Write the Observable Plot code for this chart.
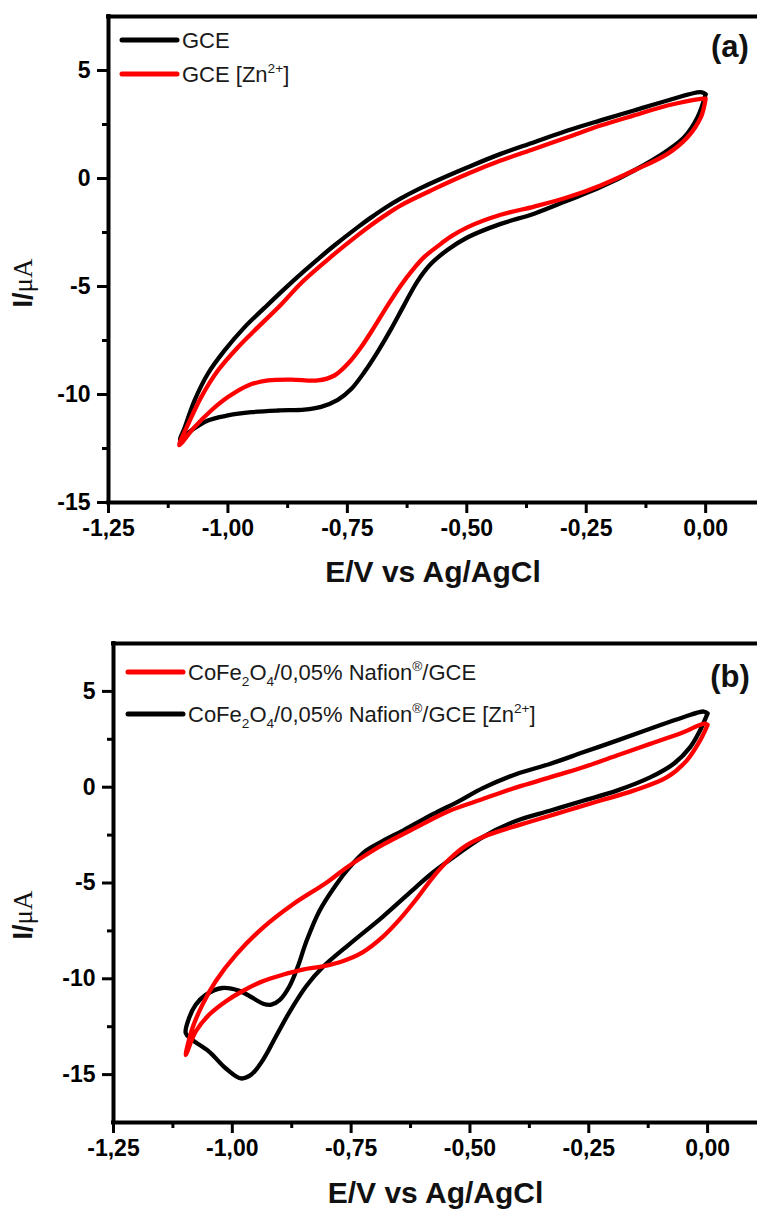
<!DOCTYPE html>
<html>
<head>
<meta charset="utf-8">
<script src="https://cdn.jsdelivr.net/npm/d3@7"></script>
<script src="https://cdn.jsdelivr.net/npm/@observablehq/plot@0.6"></script>
<style>
  html, body { margin: 0; padding: 0; background: #fff; }
  svg { display: block; }
</style>
</head>
<body>
<div id="chart"></div>
<script>
// ---------- axis ticks ----------
const xMajor = [-1.25, -1.0, -0.75, -0.5, -0.25, 0];
const xMajorLabels = ["-1,25", "-1,00", "-0,75", "-0,50", "-0,25", "0,00"];
const xMinor = [-1.125, -0.875, -0.625, -0.375, -0.125];
const yMajor = [-15, -10, -5, 0, 5];
const yMajorLabels = ["-15", "-10", "-5", "0", "5"];
const yMinor = [-12.5, -7.5, -2.5, 2.5];
const xDomainA = [-1.25, 0.1085];
const yDomainA = [-15, 7.5];
const xDomainB = [-1.25, 0.105];
const yDomainB = [-17.5, 7.5];

// ---------- panel (a) series ----------
const gceE = [0.000, -0.017, -0.045, -0.080, -0.150, -0.220, -0.289, -0.359, -0.429, -0.498, -0.540, -0.575, -0.603, -0.631, -0.658, -0.686, -0.714, -0.742, -0.770, -0.805, -0.840, -0.895, -0.951, -1.000, -1.042, -1.077, -1.100,
  -1.090, -1.070, -1.042, -1.007, -0.965, -0.923, -0.881, -0.840, -0.780, -0.728, -0.700, -0.668, -0.638, -0.600, -0.568, -0.498, -0.429, -0.359, -0.289, -0.220, -0.150, -0.080, -0.010, 0.000];
const gceI = [3.90, 2.84, 1.91, 1.30, 0.37, -0.40, -1.02, -1.63, -2.10, -2.72, -3.30, -3.95, -4.75, -5.85, -6.95, -8.00, -8.95, -9.75, -10.25, -10.57, -10.70, -10.74, -10.82, -10.97, -11.20, -11.67, -12.10,
  -11.50, -10.28, -9.04, -7.96, -6.88, -5.98, -5.10, -4.28, -3.15, -2.25, -1.80, -1.32, -0.92, -0.48, -0.15, 0.52, 1.14, 1.68, 2.22, 2.69, 3.15, 3.61, 4.00, 3.90];

const gceZnE = [0.000, -0.010, -0.038, -0.080, -0.150, -0.220, -0.289, -0.359, -0.429, -0.498, -0.533, -0.560, -0.590, -0.612, -0.638, -0.665, -0.693, -0.721, -0.749, -0.777, -0.812, -0.867, -0.916, -0.958, -1.000, -1.035, -1.070, -1.102,
  -1.083, -1.056, -1.021, -0.979, -0.937, -0.888, -0.845, -0.784, -0.728, -0.700, -0.672, -0.638, -0.568, -0.498, -0.429, -0.359, -0.289, -0.220, -0.150, -0.080, -0.010, 0.000];
const gceZnI = [3.70, 2.84, 1.91, 1.14, 0.37, -0.32, -0.87, -1.30, -1.68, -2.25, -2.68, -3.12, -3.65, -4.20, -4.95, -5.85, -6.85, -7.80, -8.58, -9.12, -9.35, -9.31, -9.35, -9.58, -10.12, -10.74, -11.51, -12.35,
  -11.36, -10.12, -8.89, -7.81, -6.88, -5.82, -4.80, -3.62, -2.62, -2.15, -1.72, -1.24, -0.48, 0.22, 0.83, 1.37, 1.91, 2.45, 2.92, 3.38, 3.69, 3.70];

// ---------- panel (b) series ----------
const cfnE = [0.000, -0.016, -0.044, -0.086, -0.156, -0.227, -0.297, -0.367, -0.437, -0.473, -0.508, -0.543, -0.578, -0.613, -0.648, -0.683, -0.726, -0.768, -0.810, -0.852, -0.894, -0.936, -0.979, -1.014, -1.049, -1.077, -1.098,
  -1.084, -1.063, -1.035, -0.992, -0.936, -0.873, -0.803, -0.760, -0.720, -0.683, -0.613, -0.543, -0.473, -0.402, -0.332, -0.262, -0.191, -0.121, -0.051, -0.008, 0.000];
const cfnI = [3.25, 2.43, 1.39, 0.51, -0.18, -0.71, -1.23, -1.75, -2.28, -2.60, -3.05, -3.75, -4.70, -5.85, -6.90, -7.80, -8.62, -9.08, -9.35, -9.52, -9.79, -10.13, -10.65, -11.18, -11.88, -12.75, -13.98,
  -12.58, -11.36, -10.13, -8.74, -7.34, -6.12, -5.00, -4.20, -3.55, -3.00, -2.10, -1.23, -0.62, -0.01, 0.51, 1.04, 1.65, 2.26, 2.87, 3.31, 3.25];

const cfnZnE = [0.000, -0.016, -0.037, -0.072, -0.121, -0.191, -0.262, -0.332, -0.402, -0.473, -0.529, -0.578, -0.613, -0.683, -0.754, -0.810, -0.845, -0.880, -0.908, -0.936, -0.960, -0.982, -1.014, -1.049, -1.084, -1.098,
  -1.091, -1.077, -1.056, -1.021, -0.985, -0.957, -0.935, -0.918, -0.900, -0.880, -0.862, -0.845, -0.817, -0.782, -0.754, -0.719, -0.683, -0.640, -0.578, -0.522, -0.473, -0.402, -0.332, -0.262, -0.191, -0.121, -0.051, -0.008, 0.000];
const cfnZnI = [3.85, 2.96, 2.08, 1.21, 0.51, -0.18, -0.71, -1.23, -1.75, -2.60, -3.55, -4.45, -5.20, -6.75, -8.20, -9.40, -10.40, -11.75, -13.00, -14.25, -15.00, -15.20, -14.67, -13.80, -13.19, -12.84,
  -12.05, -11.36, -10.84, -10.48, -10.63, -11.00, -11.30, -11.35, -11.10, -10.40, -9.35, -8.10, -6.47, -5.10, -4.20, -3.32, -2.80, -2.25, -1.41, -0.71, -0.05, 0.69, 1.21, 1.82, 2.43, 3.05, 3.65, 3.95, 3.85];

// ---------- legends / labels ----------
const legendA = [
  {color: "#000000", parts: [["GCE", "n"]]},
  {color: "#ff0000", parts: [["GCE [Zn", "n"], ["2+", "sup"], ["]", "n"]]}
];
const legendB = [
  {color: "#ff0000", parts: [["CoFe", "n"], ["2", "sub"], ["O", "n"], ["4", "sub"], ["/0,05% Nafion", "n"], ["®", "sup"], ["/GCE", "n"]]},
  {color: "#000000", parts: [["CoFe", "n"], ["2", "sub"], ["O", "n"], ["4", "sub"], ["/0,05% Nafion", "n"], ["®", "sup"], ["/GCE [Zn", "n"], ["2+", "sup"], ["]", "n"]]}
];
const xTitle = "E/V vs Ag/AgCl";

const SANS = "'Liberation Sans', Arial, Helvetica, sans-serif";
const SERIF = "'Liberation Serif', 'Times New Roman', serif";

function toRows(E, I) { return E.map((e, i) => ({E: e, I: I[i]})); }

function richText(g, x, y, parts, size) {
  const t = g.append("text").attr("x", x).attr("y", y).attr("text-anchor", "start")
    .attr("font-family", SANS).attr("font-size", size).attr("font-weight", "normal").attr("fill", "#1a1a1a");
  let shift = 0;
  for (const [s, kind] of parts) {
    let target = 0, fs = size;
    if (kind === "sub") { target = 6; fs = size * 0.62; }
    if (kind === "sup") { target = -9; fs = size * 0.62; }
    t.append("tspan").attr("dy", target - shift).attr("font-size", fs).text(s);
    shift = target;
  }
}

function panel(opts) {
  const {height, marginTop, marginBottom, marginLeft, xDomain, yDomain, series, legend, legendY, legendX, tag, tagY, ylabY, titleDy} = opts;
  const marks = [
    Plot.axisX(xMinor, {tickSize: 6, strokeWidth: 3, tickFormat: () => "", label: null}),
    Plot.axisX(xMajor, {tickSize: 11, tickPadding: 6, strokeWidth: 3, label: null,
      tickFormat: d => xMajorLabels[xMajor.indexOf(d)]}),
    Plot.axisY(yMinor, {tickSize: 6, strokeWidth: 3, tickFormat: () => "", label: null}),
    Plot.axisY(yMajor, {tickSize: 11, tickPadding: 7, strokeWidth: 3, label: null,
      tickFormat: d => yMajorLabels[yMajor.indexOf(d)]}),
    ...series.map(s => Plot.line(toRows(s.E, s.I), {x: "E", y: "I", stroke: s.color, strokeWidth: 4.3, curve: "catmull-rom", strokeLinejoin: "round", strokeLinecap: "round"})),
    Plot.ruleY(yDomain, {stroke: "#000", strokeWidth: 4, strokeLinecap: "square"}),
    Plot.ruleX([xDomain[0]], {stroke: "#000", strokeWidth: 4, strokeLinecap: "square"}),
    Plot.text([xTitle], {frameAnchor: "bottom", dy: titleDy, fontSize: 30, fontWeight: "bold", fill: "#111"})
  ];
  const svg = Plot.plot({
    width: 757, height, marginTop, marginBottom, marginLeft, marginRight: 0,
    x: {domain: xDomain, label: null},
    y: {domain: yDomain, label: null},
    style: {fontFamily: SANS, fontWeight: "bold", color: "#000", background: "#fff", overflow: "visible"},
    marks
  });
  // enlarge tick labels (bold, ~23px like the reference)
  d3.select(svg).selectAll('g[aria-label="x-axis tick label"], g[aria-label="y-axis tick label"]')
    .attr("font-size", 23).attr("font-weight", "bold").attr("font-family", SANS)
    .selectAll("text").style("font-size", "23px");
  const g = d3.select(svg).append("g");
  // legend
  legend.forEach((item, i) => {
    const y = legendY[i];
    g.append("line").attr("x1", legendX).attr("x2", legendX + 55).attr("y1", y).attr("y2", y)
      .attr("stroke", item.color).attr("stroke-width", 5).attr("stroke-linecap", "round");
    richText(g, legendX + 60, y + 8, item.parts, 22);
  });
  // panel tag
  g.append("text").attr("x", 730).attr("y", tagY).attr("text-anchor", "middle")
    .attr("font-family", SANS).attr("font-size", 31).attr("font-weight", "bold").attr("fill", "#111").text(tag);
  // y label
  const yl = g.append("text").attr("transform", `translate(22,${ylabY}) rotate(-90)`)
    .attr("text-anchor", "middle").attr("dy", "0.36em").attr("font-size", 27).attr("fill", "#111");
  yl.append("tspan").attr("font-family", SANS).attr("font-weight", "bold").text("I/");
  yl.append("tspan").attr("font-family", SERIF).attr("font-weight", "normal").text("\u03bcA");
  return svg;
}

const chart = document.getElementById("chart");
chart.appendChild(panel({
  height: 600, marginTop: 16, marginBottom: 98, marginLeft: 108,
  xDomain: xDomainA, yDomain: yDomainA,
  series: [
    {E: gceE, I: gceI, color: "#000000"},
    {E: gceZnE, I: gceZnI, color: "#ff0000"}
  ],
  legend: legendA, legendY: [40, 74], legendX: 122, tag: "(a)", tagY: 57, ylabY: 283, titleDy: 79
}));
chart.appendChild(panel({
  height: 610, marginTop: 43, marginBottom: 88, marginLeft: 113,
  xDomain: xDomainB, yDomain: yDomainB,
  series: [
    {E: cfnZnE, I: cfnZnI, color: "#000000"},
    {E: cfnE, I: cfnI, color: "#ff0000"}
  ],
  legend: legendB, legendY: [72, 114], legendX: 128, tag: "(b)", tagY: 87, ylabY: 315, titleDy: 80
}));
</script>
</body>
</html>
